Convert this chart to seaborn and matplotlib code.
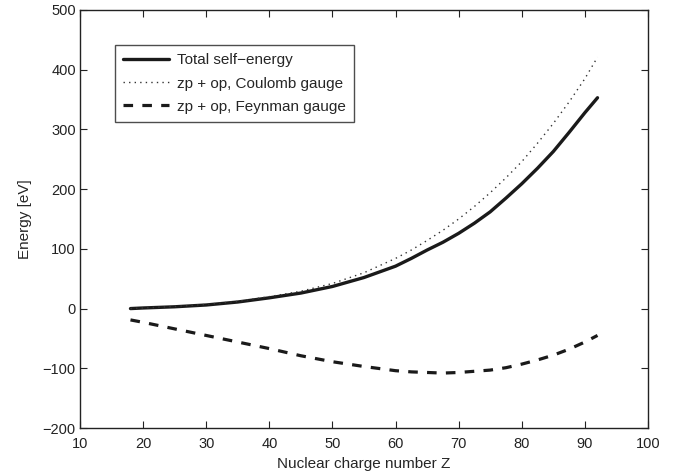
import matplotlib
matplotlib.use("Agg")
import matplotlib.pyplot as plt
import seaborn as sns
import pandas as pd

Z = [18, 20, 25, 30, 35, 40, 45, 50, 55, 60, 62.5, 65, 67.5, 70, 72.5, 75, 77.5, 80, 82.5, 85, 87.5, 90, 92]
total = [0, 1, 3, 6, 11, 18, 26, 37, 52, 71, 84, 98, 111, 126, 143, 162, 185, 209, 235, 263, 295, 328, 353]
coulomb = [0, 1, 3.5, 7, 12, 20, 29, 42, 60, 84, 98, 114, 131, 150, 171, 194, 219, 246, 277, 310, 346, 385, 421]
feynman = [-19, -23, -34, -45, -56, -67, -79, -89, -97, -104, -106, -107, -108, -107, -105, -103, -99, -93, -86, -78, -68, -56, -45]

labels = ["Total self\u2212energy", "zp + op, Coulomb gauge", "zp + op, Feynman gauge"]

sns.set_theme(style="white")
plt.rcParams['font.family'] = ['Liberation Sans', 'DejaVu Sans']

fig = plt.figure(figsize=(6.75, 4.74), dpi=100)
ax = fig.add_axes([0.1185, 0.097, 0.8415, 0.882])

df_t = pd.DataFrame({"Z": Z, "E": total})
df_c = pd.DataFrame({"Z": Z, "E": coulomb})
df_f = pd.DataFrame({"Z": Z, "E": feynman})

sns.lineplot(data=df_t, x="Z", y="E", ax=ax, color="#1a1a1a", lw=2.4, label=labels[0])
sns.lineplot(data=df_c, x="Z", y="E", ax=ax, color="#333333", lw=1.0, ls=(0, (1, 3)), label=labels[1])
sns.lineplot(data=df_f, x="Z", y="E", ax=ax, color="#1a1a1a", lw=2.3, ls=(0, (3, 2.9)), label=labels[2])

ax.set_xlim(10, 100)
ax.set_ylim(-200, 500)
ax.set_xticks(range(10, 101, 10))
ax.set_yticks(range(-200, 501, 100))
ax.set_xlabel("Nuclear charge number Z", fontsize=11, labelpad=4)
ax.set_ylabel("Energy [eV]", fontsize=11, labelpad=8)
ax.tick_params(direction="in", length=5, width=0.8, labelsize=10.5, top=True, right=True,
               bottom=True, left=True, colors="#222222", pad=3)
ax.tick_params(axis="x", pad=6.5)
for s in ax.spines.values():
    s.set_color("#222222")
    s.set_linewidth(1.0)

leg = ax.legend(loc="upper left", bbox_to_anchor=(0.0616, 0.916), borderaxespad=0, fontsize=11,
                frameon=True, fancybox=False, edgecolor="#222222", handlelength=3.0,
                borderpad=0.55, labelspacing=0.6, handletextpad=0.5)
leg.get_frame().set_linewidth(1.0)

fig.savefig("out.png", dpi=100)
